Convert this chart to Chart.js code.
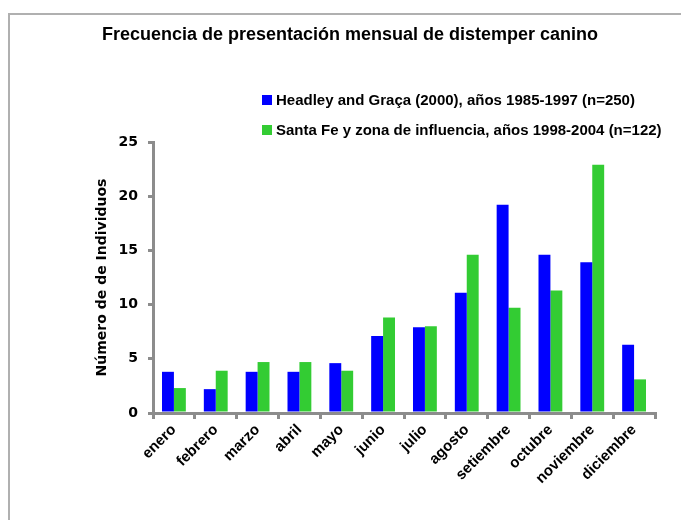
<!DOCTYPE html>
<html>
<head>
<meta charset="utf-8">
<script src="https://cdn.jsdelivr.net/npm/chart.js@4"></script>
<style>
  html, body { margin: 0; padding: 0; background: #fff; }
  #wrap { position: relative; width: 681px; height: 520px; overflow: hidden; }
  #frame {
    position: absolute; left: 8px; top: 13px; width: 700px; height: 600px;
    border-left: 2px solid #b0b0b0; border-top: 2px solid #b0b0b0;
  }
  #chart { position: absolute; left: 0; top: 0; }
  #title {
    position: absolute; left: 0; top: 24px; width: 700px; text-align: center;
    font: bold 18px "Liberation Sans", Arial, sans-serif; color: #000;
  }
  #legend {
    position: absolute; left: 262px; top: 89px;
    font: bold 15px "Liberation Sans", Arial, sans-serif; color: #000;
  }
  .row { height: 30px; line-height: 22px; white-space: nowrap; }
  .box { display: inline-block; width: 10px; height: 10px; margin-right: 4px; vertical-align: 0px; }
</style>
</head>
<body>
<div id="wrap">
  <div id="frame"></div>
  <canvas id="chart" width="681" height="520"></canvas>
  <div id="title">Frecuencia de presentación mensual de distemper canino</div>
  <div id="legend"></div>
</div>
<script>
const months = ["enero", "febrero", "marzo", "abril", "mayo", "junio", "julio",
  "agosto", "setiembre", "octubre", "noviembre", "diciembre"];
const headleyValues = [3.8, 2.2, 3.8, 3.8, 4.6, 7.1, 7.9, 11.1, 19.2, 14.6, 13.9, 6.3];
const santaFeValues = [2.3, 3.9, 4.7, 4.7, 3.9, 8.8, 8.0, 14.6, 9.7, 11.3, 22.9, 3.1];
const seriesLabels = [
  "Headley and Graça (2000), años 1985-1997 (n=250)",
  "Santa Fe y zona de influencia, años 1998-2004 (n=122)"
];
const seriesColors = ["#0000ff", "#33cc33"];
const yTicks = [0, 5, 10, 15, 20, 25];

const axisGray = "#8c8c8c";

const chart = new Chart(document.getElementById("chart"), {
  type: "bar",
  data: {
    labels: months,
    datasets: [
      { label: seriesLabels[0], data: headleyValues, backgroundColor: seriesColors[0] },
      { label: seriesLabels[1], data: santaFeValues, backgroundColor: seriesColors[1] }
    ]
  },
  options: {
    responsive: false,
    animation: false,
    categoryPercentage: 0.57,
    barPercentage: 1,
    layout: { padding: { left: 90, right: 26, top: 142, bottom: 0 } },
    plugins: {
      legend: { display: false },
      tooltip: { enabled: false }
    },
    scales: {
      x: {
        afterFit: (s) => { s.height = 107; },
        grid: { drawOnChartArea: false, color: axisGray, lineWidth: 3, tickLength: 6, offset: true },
        border: { color: axisGray, width: 3 },
        ticks: {
          color: "#000",
          minRotation: 45, maxRotation: 45,
          padding: 2,
          font: { family: "Liberation Sans", size: 15, weight: "bold" }
        }
      },
      y: {
        min: 0, max: 25,
        afterFit: (s) => { s.width = 63; },
        afterBuildTicks: (s) => { s.ticks = yTicks.map(v => ({ value: v })); },
        grid: { drawOnChartArea: false, color: axisGray, lineWidth: 3, tickLength: 5 },
        border: { color: axisGray, width: 3 },
        ticks: {
          color: "#000",
          padding: 10,
          font: { family: "DejaVu Sans", size: 14, weight: "bold" }
        },
        title: {
          display: true,
          text: "Número de de Individuos",
          color: "#000",
          font: { family: "DejaVu Sans", size: 14, weight: "bold" }
        }
      }
    }
  }
});

// legend as html, stacked like the original
const legend = document.getElementById("legend");
chart.data.datasets.forEach((ds) => {
  const row = document.createElement("div");
  row.className = "row";
  row.innerHTML = `<span class="box" style="background:${ds.backgroundColor}"></span>${ds.label}`;
  legend.appendChild(row);
});
</script>
</body>
</html>
